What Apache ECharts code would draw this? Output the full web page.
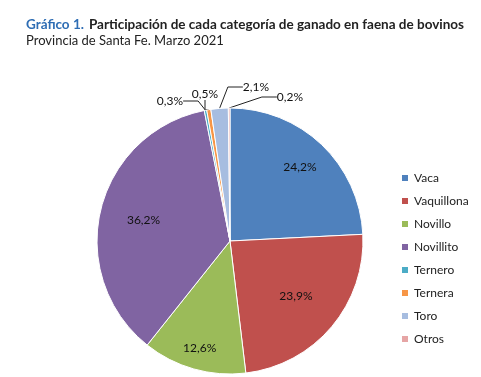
<!DOCTYPE html>
<html>
<head>
<meta charset="utf-8">
<script src="https://cdn.jsdelivr.net/npm/echarts@6/dist/echarts.min.js"></script>
<style>
  html, body { margin: 0; padding: 0; background: #fff; }
  #chart { width: 481px; height: 377px; }
</style>
</head>
<body>
<div id="chart"></div>
<script>
// datos del gráfico
var categorias = ['Vaca', 'Vaquillona', 'Novillo', 'Novillito', 'Ternero', 'Ternera', 'Toro', 'Otros'];
var porcentajes = [24.2, 23.9, 12.6, 36.2, 0.3, 0.5, 2.1, 0.2];
var colores = ['#4F81BD', '#C0504D', '#9BBB59', '#8064A2', '#4BACC6', '#F79646', '#A7BDE0', '#E6A5A5'];

// centro y radio de la torta
var cx = 230, cy = 241, r = 133;
// etiquetas internas: factor de alejamiento del centro (1 = mitad del radio)
var factorInterno = [1.46, 1.24, 1.6, 1.28];
// etiquetas externas (porciones chicas): posición del texto
var posExterna = { 4: [170, 101], 5: [205, 94], 6: [256, 87], 7: [290, 97] };

var chart = echarts.init(document.getElementById('chart'));

var datos = categorias.map(function (c, i) {
  var item = { name: c, value: porcentajes[i], itemStyle: { color: colores[i] } };
  if (posExterna[i]) {
    item.label = { position: 'outside' };
    item.labelLine = { show: true };
  }
  return item;
});

var fmt = function (p) {
  return p.value.toFixed(1).replace('.', ',') + '%';
};

var option = {
  animation: false,
  title: [{
    left: 21,
    top: 11,
    text: '{a|Gráfico 1.} {b|Participación de cada categoría de ganado en faena de bovinos}',
    textStyle: {
      rich: {
        a: { color: '#2E6DB4', fontWeight: 'bold', fontSize: 13.5, fontFamily: 'Lato' },
        b: { color: '#222', fontWeight: 'bold', fontSize: 13.5, fontFamily: 'Lato' }
      }
    }
  }, {
    left: 21,
    top: 29,
    text: 'Provincia de Santa Fe. Marzo 2021',
    textStyle: { color: '#222', fontWeight: 'normal', fontSize: 13, fontFamily: 'Lato' }
  }],
  legend: {
    orient: 'vertical',
    left: 395,
    top: 167,
    itemWidth: 8,
    itemHeight: 8,
    itemGap: 11,
    icon: 'rect',
    textStyle: { color: '#222', fontSize: 12, fontFamily: 'Lato' },
    data: categorias
  },
  series: [{
    type: 'pie',
    center: [cx, cy],
    radius: r,
    startAngle: 90,
    clockwise: true,
    avoidLabelOverlap: false,
    itemStyle: { borderColor: '#fff', borderWidth: 1 },
    label: {
      position: 'inside',
      formatter: fmt,
      color: '#111',
      fontSize: 12,
      fontFamily: 'Lato'
    },
    labelLine: { show: false, length: 10, length2: 15, lineStyle: { color: '#222', width: 1 } },
    labelLayout: function (p) {
      var i = p.dataIndex;
      var rect = p.labelRect;
      if (posExterna[i]) {
        return { x: posExterna[i][0], y: posExterna[i][1], align: 'center', verticalAlign: 'middle', hideOverlap: false };
      }
      var mx = rect.x + rect.width / 2, my = rect.y + rect.height / 2;
      var k = factorInterno[i];
      return {
        x: cx + (mx - cx) * k,
        y: cy + (my - cy) * k,
        align: 'center',
        verticalAlign: 'middle'
      };
    },
    data: datos
  }]
};

chart.setOption(option);
</script>
</body>
</html>
